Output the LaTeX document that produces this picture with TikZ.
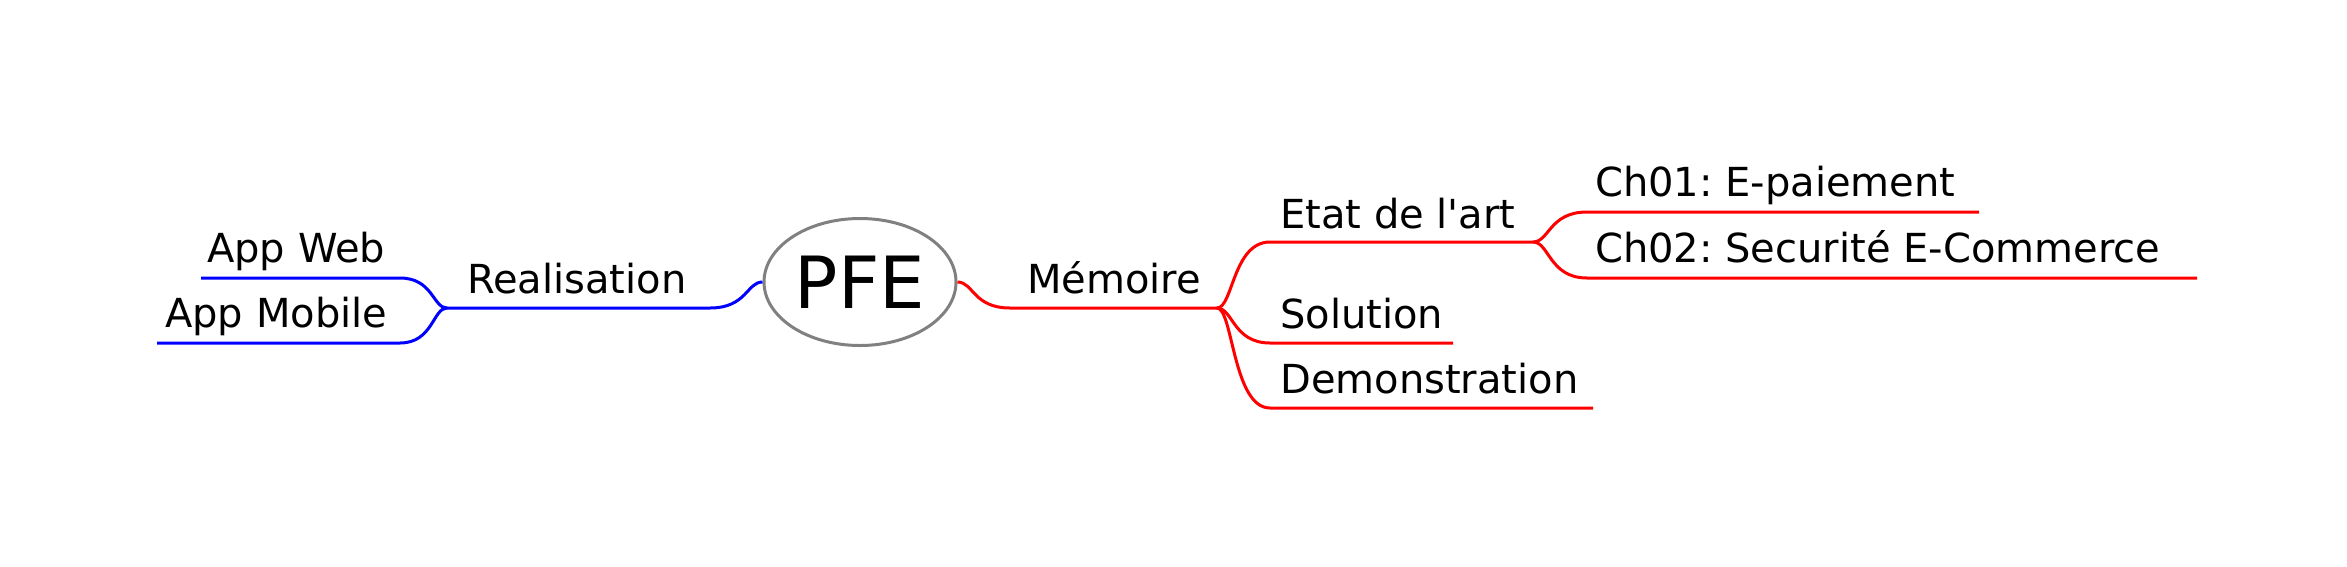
\documentclass[tikz,border=0pt]{standalone}
\usepackage{fontspec}
\setmainfont{DejaVu Sans}[Ligatures=TeXOff]
\usetikzlibrary{shapes.geometric,calc}
\begin{document}
\frenchspacing
\begin{tikzpicture}[x=1pt,y=-1pt,
  lbl/.style={anchor=base west,inner sep=0pt,font=\fontsize{40}{48}\selectfont},
  redl/.style={draw=red,line width=3pt},
  bluel/.style={draw=blue,line width=3pt},
  branch/.style={to path={let \p1=(\tikztostart),\p2=(\tikztotarget) in
     .. controls ({\x1+0.3*(\x2-\x1)},\y1) and ({\x1+0.3*(\x2-\x1)},\y2) .. (\tikztotarget)}}]
\path[fill=white,use as bounding box] (0,0) rectangle (2347,566);

% root
\node[ellipse,draw=gray,line width=3pt,minimum width=192pt,minimum height=127pt,
      inner sep=0pt,font=\fontsize{72}{86}\selectfont] (pfe) at (860,282) {PFE};

% right branch
\coordinate (mem-s) at (1010,308);  \coordinate (mem-e) at (1217,308);
\coordinate (etat-s) at (1270,242); \coordinate (etat-e) at (1533,242);
\coordinate (sol-s) at (1270,343);  \coordinate (sol-e) at (1453,343);
\coordinate (demo-s) at (1270,408); \coordinate (demo-e) at (1593,408);
\coordinate (ch1-s) at (1587,212);  \coordinate (ch1-e) at (1979,212);
\coordinate (ch2-s) at (1587,278);  \coordinate (ch2-e) at (2197,278);

\node[lbl] (mem) at (1027,293) {Mémoire};
\node[lbl] (etat) at (1280,228) {Etat de l'art};
\node[lbl] (sol) at (1280,328) {Solution};
\node[lbl] (demo) at (1280,393) {Demonstration};
\node[lbl] (ch1) at (1595,196) {Ch01: E-paiement};
\node[lbl] (ch2) at (1595,262) {Ch02: Securité E-Commerce};

\draw[redl] (pfe.east) to[branch] (mem-s) -- (mem-e);
\draw[redl] (mem-e) to[branch] (etat-s) -- (etat-e);
\draw[redl] (mem-e) to[branch] (sol-s) -- (sol-e);
\draw[redl] (mem-e) to[branch] (demo-s) -- (demo-e);
\draw[redl] (etat-e) to[branch] (ch1-s) -- (ch1-e);
\draw[redl] (etat-e) to[branch] (ch2-s) -- (ch2-e);

% left branch
\coordinate (real-e) at (710,308);  \coordinate (real-s) at (447,308);
\coordinate (web-e) at (400,278);   \coordinate (web-s) at (201,278);
\coordinate (mob-e) at (400,343);   \coordinate (mob-s) at (157,343);

\node[lbl] (real) at (467,293) {Realisation};
\node[lbl] (web) at (207,262) {App Web};
\node[lbl] (mob) at (165,327) {App Mobile};

\draw[bluel] (pfe.west) to[branch] (real-e) -- (real-s);
\draw[bluel] (real-s) to[branch] (web-e) -- (web-s);
\draw[bluel] (real-s) to[branch] (mob-e) -- (mob-s);
\end{tikzpicture}
\end{document}
